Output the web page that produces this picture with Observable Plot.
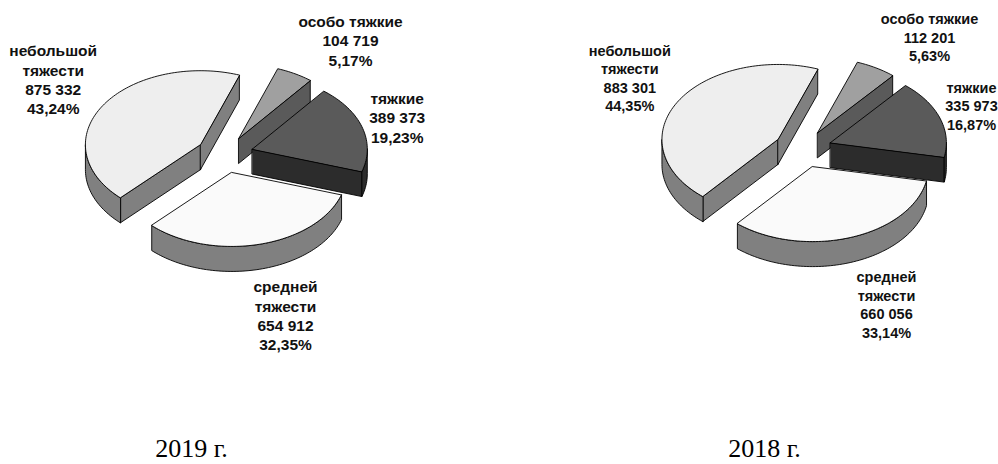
<!DOCTYPE html>
<html lang="ru">
<head>
<meta charset="utf-8">
<script src="https://cdn.jsdelivr.net/npm/d3@7"></script>
<script src="https://cdn.jsdelivr.net/npm/@observablehq/plot@0.6"></script>
<style>
  html, body { margin: 0; padding: 0; background: #fff; }
  svg { display: block; }
</style>
</head>
<body>
<div id="chart"></div>
<script>
// Crime counts by severity, listed clockwise from the first slice.
const categories = ["особо тяжкие", "тяжкие", "средней тяжести", "небольшой тяжести"];
const labelLines = [["особо тяжкие"], ["тяжкие"], ["средней", "тяжести"], ["небольшой", "тяжести"]];
const counts2019 = [104719, 389373, 654912, 875332];
const counts2018 = [112201, 335973, 660056, 883301];
const years = ["2019 г.", "2018 г."];

// Page geometry of the two tilted pies.
const W = 998, H = 464;
const pieLayouts = [
  {
    counts: counts2019, cx: 224.3, cy: 154, a: 115, b: 74, depth: 25, startDeg: 19.8,
    fontSize: 15.5, lineHeight: 1.245,
    labelAt: [[350, 39.7], [396.7, 116.7], [285, 314.5], [52.7, 78.5]],
    captionX: 191
  },
  {
    counts: counts2018, cx: 802.5, cy: 148.4, a: 116, b: 75, depth: 25, startDeg: 20.06,
    fontSize: 14.5, lineHeight: 1.27,
    labelAt: [[929, 36.3], [971, 105], [886, 303.5], [629.3, 77]],
    captionX: 764
  }
];
const explode = 0.25;

const faceStyles = [
  {top: "#a0a0a0", wall: "#5a5a5a"},
  {top: "#5a5a5a", wall: "#2c2c2c"},
  {top: "#fafafa", wall: "#808080"},
  {top: "#eeeeee", wall: "#808080"}
];
// Back-to-front painting order of the slices.
const paintOrder = [0, 1, 3, 2];

const rad = d => d * Math.PI / 180;
const arcAngles = (from, to) => {
  const n = Math.max(2, Math.ceil(Math.abs(to - from) / 1.5));
  return d3.range(n + 1).map(i => from + (to - from) * i / n);
};

// Builds the closed outline of every visible face, computed from the counts.
function buildFaces(pie, pieIndex) {
  const total = d3.sum(pie.counts);
  const spans = [];
  let angle = pie.startDeg;
  pie.counts.forEach(v => {
    const sweep = v / total * 360;
    spans.push([angle, angle + sweep]);
    angle += sweep;
  });

  const faces = [];
  const addFace = (id, fill, pts) =>
    pts.forEach(([x, y]) => faces.push({id: `${pieIndex}-${id}`, fill, x, y}));

  paintOrder.forEach(i => {
    const [from, to] = spans[i];
    const mid = rad((from + to) / 2);
    const ox = pie.cx + explode * pie.a * Math.sin(mid);
    const oy = pie.cy - explode * pie.b * Math.cos(mid);
    const rim = d => [ox + pie.a * Math.sin(rad(d)), oy - pie.b * Math.cos(rad(d))];
    const drop = ([x, y]) => [x, y + pie.depth];
    const style = faceStyles[i];

    const wall = (d, tag) => {
      const p = rim(d);
      addFace(`${i}-${tag}`, style.wall, [[ox, oy], p, drop(p), [ox, oy + pie.depth]]);
    };
    // A cut wall shows only when its outward normal points toward the viewer.
    if (Math.sin(rad(from)) < 0) wall(from, "wall-start");
    if (Math.sin(rad(to)) > 0) wall(to, "wall-end");

    // Outer wall: the portion of the rim on the near half of the ellipse.
    const a0 = Math.max(from, 90), a1 = Math.min(to, 270);
    if (a1 > a0) {
      const arc = arcAngles(a0, a1).map(rim);
      addFace(`${i}-rim`, style.wall, [...arc, ...arc.slice().reverse().map(drop)]);
    }

    // Top face.
    addFace(`${i}-top`, style.top, [[ox, oy], ...arcAngles(from, to).map(rim)]);
  });
  return faces;
}

const groupedNumber = v => d3.format(",")(v).replace(/,/g, " ");
const percentText = (v, total) => (v / total * 100).toFixed(2).replace(".", ",") + "%";

const labelMarks = pieLayouts.map(pie => {
  const total = d3.sum(pie.counts);
  const rows = pie.counts.map((v, i) => ({
    x: pie.labelAt[i][0],
    y: pie.labelAt[i][1],
    text: [...labelLines[i], groupedNumber(v), percentText(v, total)].join("\n"),
    name: categories[i]
  }));
  return Plot.text(rows, {
    x: "x", y: "y", text: "text",
    textAnchor: "middle", lineAnchor: "middle",
    lineHeight: pie.lineHeight,
    fontFamily: "'Liberation Sans', Arial, sans-serif",
    fontWeight: 700, fontSize: pie.fontSize, fill: "#111"
  });
});

const chart = Plot.plot({
  width: W, height: H,
  margin: 0,
  style: {background: "#fff"},
  x: {domain: [0, W], range: [0, W], axis: null},
  y: {domain: [0, H], range: [0, H], axis: null},
  color: {type: "identity"},
  marks: [
    ...pieLayouts.map((pie, k) => Plot.line(buildFaces(pie, k), {
      x: "x", y: "y", z: "id",
      fill: d => d.fill,
      stroke: "#000", strokeWidth: 0.9,
      strokeLinejoin: "miter",
      curve: "linear-closed"
    })),
    ...labelMarks,
    Plot.text(years.map((t, i) => ({t, x: pieLayouts[i].captionX})), {
      x: "x", y: () => 448, text: "t",
      lineAnchor: "middle",
      fontFamily: "'Liberation Serif', 'Times New Roman', serif",
      fontSize: 26, fill: "#000"
    })
  ]
});
document.getElementById("chart").append(chart);
</script>
</body>
</html>
